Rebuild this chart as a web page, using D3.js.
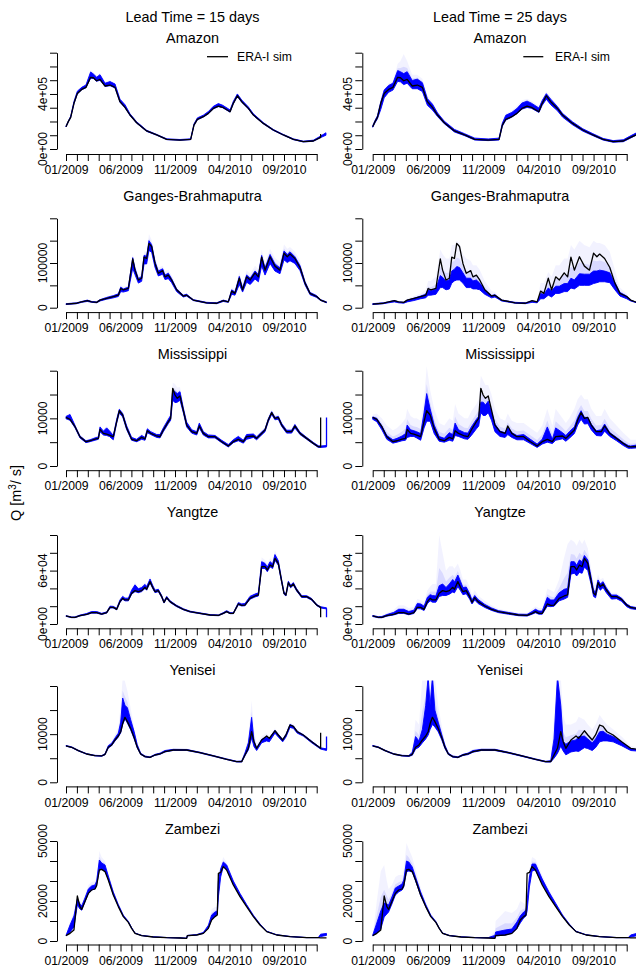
<!DOCTYPE html>
<html><head><meta charset="utf-8">
<script src="https://cdn.jsdelivr.net/npm/d3@7"></script>
<style>
body{margin:0;background:#fff}
svg{display:block}
text{font-family:"Liberation Sans",Arial,Helvetica,sans-serif;fill:#000}
</style>
</head><body>
<svg id="chart" width="636" height="970"></svg>
<script>
// ---------------- DATA ----------------
const leadTitles = ["Lead Time = 15 days", "Lead Time = 25 days"];
const riverNames = ["Amazon", "Ganges-Brahmaputra", "Mississippi", "Yangtze", "Yenisei", "Zambezi"];
const legendLabel = "ERA-I sim";
const yAxisTitle = "Q [m";
const xTickMonths = [0,1,2,3,4,5,6,7,8,9,10,11,12,13,14,15,16,17,18,19,20,21,22,23];
const xLabelMonths = [0,5,10,15,20];
const xLabels = ["01/2009","06/2009","11/2009","04/2010","09/2010"];

const amazonTicks = [0,100,200,300,400,500,600,700];
const amazonTickLabels = ["0e+00","","","","4e+05","","",""];
const gangesTicks = [0,50,100,150,200];
const gangesTickLabels = ["0","","100000","",""];
const mississippiTicks = [0,5,10,15,20];
const mississippiTickLabels = ["0","","10000","",""];
const yangtzeTicks = [0,20,40,60,80,100];
const yangtzeTickLabels = ["0e+00","","","6e+04","",""];
const yeniseiTicks = [0,5,10,15,20];
const yeniseiTickLabels = ["0","","10000","",""];
const zambeziTicks = [0,10,20,30,40,50];
const zambeziTickLabels = ["0","","20000","","","50000"];

// ---- Amazon (1000 m3/s), t = months since 01/2009
const amazonT = [0,0.21,0.43,0.73,1.04,1.44,1.83,2.26,2.51,2.81,3.12,3.58,4.04,4.5,4.95,5.41,5.87,6.48,7.4,8.32,9.24,10.46,11.44,11.74,12.05,12.6,13.06,13.52,13.98,14.37,15.05,15.35,15.72,16.12,16.73,17.19,18.1,19.02,19.94,20.86,21.77,22.69,23.36,23.85];
const amazonSim = [162,199,230,332,404,433,448,521,518,496,506,458,465,448,344,303,247,191,131,102,70,65,70,174,215,235,259,295,312,303,271,332,387,344,295,247,186,138,102,70,53,58,85,102];
const amazonLo15 = [160,196,228,328,400,430,445,515,512,492,500,455,460,444,340,300,244,188,128,100,68,63,68,170,212,232,256,292,308,300,268,328,382,340,292,244,183,135,100,68,51,56,83,100];
const amazonHi15 = [166,204,238,345,420,448,465,560,545,522,540,478,490,472,362,322,256,198,136,106,74,69,74,182,226,246,272,310,330,318,284,346,400,356,306,256,192,142,106,74,57,64,94,118];
const amazonExt15 = [168,206,240,350,428,455,472,575,560,535,555,490,500,480,368,328,260,200,138,108,76,71,76,185,230,250,278,316,336,324,290,352,408,362,310,260,195,145,108,76,59,66,96,120];
const amazonLo25 = [158,190,220,288,372,412,428,492,488,468,478,438,438,418,318,284,236,184,124,97,65,61,65,165,210,232,258,290,302,296,266,318,362,322,278,232,176,130,97,65,49,53,80,100];
const amazonHi25 = [168,208,242,342,428,462,478,570,562,548,562,498,508,482,366,326,262,202,142,111,79,73,79,188,245,266,294,334,348,333,298,352,402,362,308,258,197,147,111,77,61,67,96,116];
const amazonExt25 = [170,212,248,352,440,478,495,620,640,690,640,540,540,510,390,340,272,210,150,118,84,78,84,195,258,280,312,355,365,350,312,365,420,380,320,268,205,152,116,80,64,70,100,120];

// ---- Ganges-Brahmaputra
const gangesT = [0,0.98,1.44,1.96,2.35,2.81,3.12,3.73,4.34,4.8,5.02,5.26,5.72,6.12,6.33,6.64,6.94,7.16,7.4,7.61,7.86,8.17,8.47,8.87,9.08,9.39,9.69,10.15,10.76,11.07,11.68,12.9,13.82,14.43,14.89,15.2,15.5,15.9,16.2,16.57,16.9,17.34,17.65,17.95,18.26,18.72,19.17,19.63,20.0,20.3,20.55,21.0,21.47,21.93,22.39,23.0,23.36,23.9];
const gangesSim = [8,10,13,16,13,12,17,21,25,28,43,40,43,109,84,62,66,113,110,144,137,99,77,83,69,73,62,40,26,28,17,11,10,16,13,37,32,66,40,69,62,78,69,113,84,114,93,84,122,114,120,110,90,55,32,25,17,12];
const gangesLo15 = [7,9,12,14,12,11,15,19,22,25,36,35,38,88,74,55,59,98,98,128,124,90,71,75,63,65,56,36,24,26,16,10,9,14,12,30,28,52,35,57,52,64,58,94,73,99,82,76,107,101,105,99,83,51,29,23,16,11];
const gangesHi15 = [9,11,14,17,14,13,18,23,27,31,46,42,46,112,88,65,70,117,115,150,141,103,82,87,73,77,65,42,28,30,18,12,11,17,14,40,35,70,44,73,66,82,74,117,89,119,98,89,127,119,125,114,94,58,34,27,18,13];
const gangesExt15 = [9,11,14,17,15,14,19,24,29,33,52,47,50,120,96,72,78,126,126,165,152,112,90,94,82,85,73,47,31,32,19,12,11,17,15,45,42,80,52,84,76,94,86,130,102,132,112,102,142,132,136,126,106,64,37,29,19,13];
const gangesLo25 = [7,9,11,13,11,10,13,16,20,22,28,28,30,45,45,40,42,55,60,62,62,55,45,45,42,42,40,30,22,24,15,10,9,12,11,20,20,28,24,32,32,36,36,44,42,50,50,50,54,56,58,58,56,40,26,20,15,11];
const gangesHi25 = [9,11,13,16,13,12,17,21,26,30,40,38,42,72,68,60,62,82,86,92,90,78,66,66,60,62,55,40,27,29,17,12,11,15,13,32,30,44,38,48,48,54,54,66,62,76,75,75,82,82,84,82,78,56,34,26,17,12];
const gangesExt25 = [10,12,15,18,15,14,20,26,32,40,60,60,70,130,120,110,110,140,140,150,145,120,110,105,95,95,85,60,38,35,20,13,12,18,16,55,55,80,70,95,95,110,110,140,130,150,140,135,150,145,145,140,125,85,45,32,19,13];

// ---- Mississippi
const mississippiT = [0,0.37,0.83,1.28,1.83,2.2,2.66,2.97,3.12,3.43,3.73,3.98,4.34,4.65,4.89,5.2,5.57,6.02,6.48,6.94,7.25,7.46,7.77,8.32,8.62,8.93,9.39,9.6,9.79,10.0,10.21,10.46,10.76,11.07,11.53,11.99,12.23,12.6,13.06,13.67,14.28,14.89,15.35,15.81,16.27,16.57,17.19,17.49,17.8,18.26,18.56,18.87,19.17,19.48,19.79,20.24,20.7,21.0,21.47,22.08,22.69,23.15,23.36,23.9];
const mississippiSim = [10.2,9.8,8.25,6.15,5.1,5.3,5.66,5.8,7.7,6.85,6.7,6.5,6.15,9.3,11.6,10.7,7.9,5.6,5.3,6.0,5.7,7.4,6.85,6.3,6.15,7.55,9.3,10.0,16.3,14.9,14.2,14.7,11.7,8.6,7.2,6.85,8.4,6.85,6.15,6.15,5.1,4.2,5.1,5.6,5.1,6.15,6.3,5.8,6.5,7.55,9.65,11.2,10.0,10.2,8.6,7.2,7.2,8.4,6.85,5.8,4.75,4.05,4.0,4.1];
const mississippiLo15 = [9.9,9.6,8.0,5.9,4.9,5.1,5.4,5.6,7.2,6.5,6.4,6.2,5.5,9.0,11.1,10.3,7.6,5.4,5.1,5.6,5.4,7.0,6.6,6.0,5.9,7.2,8.9,9.6,13.8,13.3,13.4,13.8,11.2,8.2,6.9,6.5,8.0,6.5,5.9,5.9,4.9,4.0,4.9,5.3,4.8,5.6,6.0,5.5,6.2,7.2,9.3,10.8,9.7,9.8,8.3,6.9,6.9,8.0,6.6,5.6,4.6,3.9,3.9,4.0];
const mississippiHi15 = [10.4,10.8,8.5,6.3,5.3,5.5,5.9,6.1,8.2,7.3,8.0,7.4,6.4,9.8,11.9,11.0,8.4,6.0,5.6,6.4,6.0,7.8,7.2,6.6,6.6,8.0,9.8,10.6,16.0,15.6,15.2,15.6,12.2,9.2,7.6,7.2,9.0,7.2,6.5,6.4,5.4,4.5,5.5,6.2,5.4,6.6,6.7,6.1,6.8,7.8,9.9,11.4,10.2,10.4,8.9,7.5,7.5,8.7,7.1,6.0,4.95,4.25,4.2,4.3];
const mississippiExt15 = [10.6,11.2,8.8,6.5,5.5,5.7,6.2,6.4,8.6,7.7,8.4,7.8,6.8,10.2,12.4,11.5,8.8,6.2,5.8,6.8,6.3,8.2,7.6,7.0,7.0,8.4,10.4,11.4,17.5,17.2,16.5,16.6,12.8,9.6,7.9,7.5,9.4,7.5,6.8,6.7,5.6,4.7,5.8,6.5,5.6,6.9,7.0,6.4,7.1,8.2,10.4,11.9,10.7,10.9,9.3,7.8,7.8,9.0,7.4,6.2,5.1,4.4,4.3,4.4];
const mississippiLo25 = [9.8,9.3,7.6,5.6,4.8,5.0,5.3,5.4,6.0,6.2,6.2,5.9,5.4,8.0,9.4,9.4,6.8,5.2,5.0,5.4,5.2,6.4,6.2,5.7,5.6,6.4,7.8,8.4,11.2,10.6,10.6,11.2,9.6,7.2,6.2,6.0,6.6,6.0,5.5,5.5,4.7,3.9,4.6,5.0,4.7,5.4,5.7,5.2,5.8,6.8,8.6,9.8,8.8,8.9,7.6,6.4,6.3,7.3,6.2,5.3,4.3,3.7,3.7,3.8];
const mississippiHi25 = [10.3,10.0,8.4,6.4,5.5,5.8,6.3,6.8,8.6,7.6,7.4,7.2,6.8,11.2,15.2,12.0,8.6,6.2,5.8,7.0,6.6,9.0,7.6,7.0,6.9,8.2,9.8,10.4,13.4,13.4,12.8,13.6,11.4,8.8,7.3,7.0,8.2,7.0,6.4,6.6,5.6,4.6,5.6,8.2,5.6,8.0,7.0,6.4,7.2,8.2,10.2,11.6,10.2,10.2,8.8,7.4,7.6,8.8,7.0,6.0,4.9,4.3,4.2,4.4];
const mississippiExt25 = [10.8,11.0,10.0,8.5,7.5,8.0,9.0,10.0,12.0,10.5,10.0,10.0,9.5,14.0,21.0,16.0,12.0,9.0,8.5,10.0,9.5,13.0,11.0,10.0,10.0,11.5,13.0,14.0,19.0,18.0,17.0,17.0,15.0,12.0,10.0,9.5,11.0,9.5,9.0,9.0,8.0,7.0,8.5,12.0,8.5,12.0,10.0,9.0,10.0,12.0,14.0,15.0,14.0,14.0,12.0,10.5,10.5,12.0,10.0,8.5,7.0,6.0,5.5,5.5];

// ---- Yangtze
const yangtzeT = [0,0.52,0.83,1.28,1.9,2.35,2.81,3.27,3.73,4.04,4.34,4.65,4.95,5.2,5.41,5.72,6.02,6.33,6.64,6.94,7.25,7.4,7.71,7.95,8.17,8.47,8.78,8.99,9.24,9.54,10.15,10.76,11.38,12.29,13.21,13.98,14.43,14.74,15.05,15.35,15.81,16.12,16.42,16.88,17.34,17.65,17.95,18.26,18.47,18.72,18.96,19.17,19.48,19.79,20.0,20.18,20.4,20.61,20.86,21.16,21.62,22.08,22.54,23.0,23.36,23.9];
const yangtzeSim = [9.0,7.5,7.5,9.4,10.9,12.7,12.7,11.2,12.7,18.7,18.7,16.5,25.1,28.8,27.0,27.0,34.5,37.5,36.3,37.5,41.2,39.0,47.6,41.2,36.3,37.5,30.7,24.3,29.6,25.1,20.2,16.5,13.9,12.0,10.1,9.7,12.0,13.9,12.0,12.0,22.5,21.0,21.3,28.8,31.5,32.6,64.4,64.4,60.7,66.3,64.4,73.8,68.2,47.6,34.5,32.6,46.4,42.0,45.0,38.2,30.7,30.7,27.7,21.3,18.7,17.5];
const yangtzeLo15 = [8.6,7.1,7.1,9.0,10.5,12.2,12.2,10.8,12.2,18.0,18.0,15.9,24.2,27.8,26.0,26.0,33.4,36.4,35.2,36.4,40.0,38.0,46.2,40.0,35.2,36.4,29.8,23.5,28.7,24.3,19.5,15.9,13.4,11.6,9.7,9.3,11.6,13.4,11.6,11.6,21.6,20.2,20.5,27.8,30.4,31.5,62.4,62.4,58.8,64.2,62.4,71.5,66.0,46.2,33.4,31.5,45.0,40.7,43.6,37.0,29.8,29.8,26.8,20.6,18.1,16.9];
const yangtzeHi15 = [9.4,7.9,8.0,10.0,11.8,14.0,14.0,12.0,13.6,20.0,19.8,17.6,27.0,31.0,29.0,29.0,38.0,44.0,39.5,41.0,44.5,42.0,50.5,43.5,38.0,39.0,32.0,25.5,31.0,26.2,21.0,17.2,14.4,12.5,10.6,10.2,12.8,15.0,12.8,12.6,24.0,22.6,23.0,31.0,33.6,35.0,70.0,68.0,64.0,70.0,67.5,78.0,71.0,49.5,36.0,34.0,48.0,43.6,46.5,39.5,31.8,31.8,28.6,22.0,19.4,18.2];
const yangtzeExt15 = [9.6,8.1,8.2,10.3,12.2,14.6,14.6,12.4,14.0,21.0,20.8,18.4,28.4,32.6,30.4,30.4,40.0,47.0,41.5,43.5,47.0,44.5,54.0,45.5,39.5,40.5,33.0,26.3,32.0,27.0,21.6,17.6,14.7,12.8,10.9,10.5,13.3,15.6,13.3,13.1,25.4,23.8,24.2,33.0,35.5,37.0,75.0,72.0,68.0,74.0,71.0,83.0,74.0,51.5,37.5,35.5,50.0,45.0,48.0,41.0,32.7,32.7,29.4,22.6,19.9,18.6];
const yangtzeLo25 = [8.4,7.0,7.0,8.8,10.2,11.9,11.9,10.4,11.8,17.3,17.0,15.2,22.8,26.0,24.5,24.5,31.0,32.0,32.0,33.5,36.0,35.0,42.0,37.5,33.0,34.0,28.0,22.5,27.0,23.0,18.6,15.3,12.8,11.0,9.3,8.9,11.0,12.6,11.0,11.0,20.0,19.5,20.0,26.0,28.0,30.0,56.0,57.0,54.0,58.0,57.0,64.0,60.0,44.0,31.0,29.5,42.0,38.0,41.0,35.0,28.0,28.5,25.5,19.5,17.2,16.2];
const yangtzeHi25 = [9.5,8.2,8.4,10.6,13.0,16.5,16.5,14.0,15.5,23.0,22.5,20.0,30.0,33.0,32.0,31.5,43.0,45.0,41.0,45.0,50.0,47.0,55.0,48.0,41.0,41.5,34.0,27.0,32.0,27.5,22.0,18.0,15.0,13.0,11.0,10.8,14.0,16.5,14.5,14.5,30.0,27.0,27.0,35.0,39.0,40.0,70.0,70.0,66.0,72.0,70.0,77.0,72.0,52.0,38.0,36.0,49.5,45.0,47.5,40.5,32.5,32.5,29.0,22.5,19.6,18.4];
const yangtzeExt25 = [10.0,9.0,9.5,12.5,16.0,21.0,21.0,18.0,19.5,28.0,27.0,25.0,38.0,42.0,45.0,45.0,100.0,80.0,60.0,65.0,65.0,62.0,68.0,60.0,50.0,50.0,42.0,33.0,38.0,32.0,26.0,21.0,17.0,14.5,12.5,12.5,17.0,20.0,18.0,18.0,40.0,38.0,36.0,50.0,75.0,90.0,95.0,92.0,88.0,95.0,90.0,95.0,85.0,62.0,46.0,44.0,56.0,50.0,52.0,44.0,35.0,35.0,31.0,24.0,21.0,19.5];

// ---- Yenisei
const yeniseiT = [0,0.52,1.13,1.9,2.66,3.27,3.58,3.88,4.19,4.5,4.8,5.02,5.2,5.41,5.63,5.93,6.24,6.54,6.85,7.25,7.71,8.17,8.62,9.08,9.85,11.07,12.29,13.52,14.74,15.66,16.12,16.42,16.73,17.03,17.25,17.49,17.95,18.41,18.65,19.17,19.48,19.88,20.18,20.55,20.86,21.22,21.77,22.54,23.36,23.9];
const yeniseiSim = [7.55,7.27,6.57,5.88,5.54,5.47,5.81,7.27,7.75,8.79,9.62,10.5,12.2,13.5,12.6,11.2,9.34,7.27,5.88,5.33,5.19,5.67,5.88,6.37,6.71,6.71,6.16,5.47,4.78,4.29,4.29,5.67,7.06,10.5,8.44,7.06,8.79,9.62,9.13,10.7,9.83,8.79,9.83,11.9,11.6,10.5,9.83,8.44,7.06,6.85];
const yeniseiLo15 = [7.5,7.2,6.5,5.82,5.48,5.4,5.7,7.1,7.6,8.6,9.4,10.3,12.0,13.2,12.3,10.9,9.1,7.1,5.78,5.25,5.12,5.6,5.8,6.3,6.62,6.62,6.08,5.4,4.72,4.22,4.2,5.5,6.7,9.2,7.4,6.6,8.2,8.6,8.4,10.2,9.4,8.4,9.4,11.4,11.2,10.2,9.6,8.2,6.9,6.6];
const yeniseiHi15 = [7.65,7.36,6.65,5.95,5.6,5.55,5.95,7.6,8.1,9.2,10.2,12.5,17.5,16.0,15.5,13.0,10.6,7.8,6.05,5.45,5.28,5.8,6.05,6.6,6.85,6.82,6.25,5.55,4.86,4.36,4.42,6.1,8.2,13.5,8.6,7.1,8.9,9.4,9.1,10.8,9.95,8.9,9.95,12.0,11.7,10.6,9.9,8.55,7.15,6.95];
const yeniseiExt15 = [7.7,7.4,6.7,6.0,5.65,5.6,6.1,8.0,8.6,10.0,11.5,16.0,22.0,21.0,19.0,15.5,11.5,8.2,6.1,5.5,5.35,5.9,6.1,6.7,6.9,6.9,6.3,5.6,4.9,4.4,4.5,6.6,9.5,17.0,11.0,8.0,9.6,10.2,9.6,11.2,10.2,9.2,10.2,12.4,12.0,10.9,10.1,8.7,7.25,7.05];
const yeniseiLo25 = [7.5,7.2,6.5,5.8,5.45,5.38,5.6,6.9,7.3,8.2,9.0,9.8,11.0,12.0,11.5,10.5,8.9,7.0,5.75,5.22,5.1,5.55,5.75,6.25,6.6,6.6,6.05,5.38,4.7,4.2,4.2,5.0,6.0,7.5,6.5,5.7,6.3,6.5,6.4,7.2,7.0,6.6,7.2,8.4,8.6,8.6,8.4,7.6,6.6,6.5];
const yeniseiHi25 = [7.65,7.36,6.65,5.95,5.6,5.55,6.2,9.5,8.6,11.0,16.0,22.0,16.0,22.0,15.0,12.5,10.0,7.7,6.05,5.45,5.3,5.8,6.05,6.6,6.85,6.85,6.25,5.55,4.86,4.36,4.5,9.0,22.0,16.0,8.5,7.9,8.6,8.8,9.5,9.6,9.0,8.2,9.0,10.5,10.6,10.0,9.5,8.3,7.0,6.8];
const yeniseiExt25 = [7.7,7.4,6.7,6.0,5.7,5.7,6.8,13.0,12.0,22.0,22.0,22.0,22.0,22.0,22.0,16.0,12.0,8.2,6.2,5.6,5.4,5.9,6.2,6.9,7.1,7.0,6.3,5.6,4.9,4.4,4.8,14.0,22.0,22.0,14.0,12.0,12.0,12.5,13.6,13.0,12.0,11.0,12.0,14.0,13.0,12.0,11.0,9.5,7.6,7.2];

// ---- Zambezi
const zambeziT = [0,0.37,0.73,1.04,1.28,1.44,1.74,2.05,2.35,2.66,2.81,3.06,3.27,3.58,3.88,4.34,4.8,5.26,5.72,6.02,6.33,6.94,8.01,9.24,10.46,11.07,11.13,11.99,12.6,13.06,13.36,13.67,13.88,13.98,14.19,14.43,14.74,15.35,15.96,16.57,17.19,17.8,18.41,19.33,20.55,22.08,23.15,23.36,23.9];
const zambeziSim = [2.67,3.83,5.5,22.5,17.2,15.8,19.7,23.8,25.5,26.0,27.7,35.5,35.8,34.7,30.5,23.0,17.2,12.2,9.33,6.33,3.83,2.67,2.0,1.67,1.5,1.33,2.67,3.0,3.83,6.33,10.5,12.2,13.0,33.8,34.3,37.2,35.5,28.0,22.2,17.2,12.2,8.0,4.67,3.0,2.17,1.67,1.67,1.6,1.6];
const zambeziLo15 = [2.6,4.5,7.0,18.0,16.0,15.4,19.5,23.8,25.5,26.0,27.8,36.0,36.0,35.0,30.8,23.2,17.4,12.3,9.4,6.4,3.85,2.68,2.0,1.67,1.5,1.33,2.6,2.95,3.8,6.4,10.8,12.5,13.5,22.0,32.0,37.2,35.7,28.3,22.5,17.4,12.3,8.05,4.7,3.0,2.17,1.67,1.67,2.2,2.8];
const zambeziHi15 = [2.8,8.0,12.5,21.0,18.5,17.5,21.5,26.0,27.5,28.0,30.0,40.5,39.0,38.0,32.5,24.5,18.2,12.9,9.8,6.7,4.0,2.8,2.1,1.75,1.58,1.4,2.8,3.2,4.3,7.8,13.0,14.5,15.0,30.0,36.0,39.5,38.0,30.0,23.8,18.2,12.9,8.5,4.9,3.15,2.27,1.75,1.75,3.4,3.8];
const zambeziExt15 = [2.9,10.0,14.5,23.0,20.0,19.0,23.0,28.0,29.5,30.0,32.0,45.0,42.0,40.0,34.0,25.5,18.8,13.3,10.0,6.9,4.1,2.9,2.15,1.8,1.6,1.42,2.9,3.3,4.6,9.0,16.0,17.0,17.0,33.0,38.0,42.0,39.5,31.0,24.5,18.6,13.2,8.7,5.0,3.2,2.3,1.8,1.8,3.6,4.0];
const zambeziLo25 = [2.6,4.0,6.0,12.0,13.5,14.5,18.5,23.0,24.5,25.5,27.0,34.5,35.0,34.5,30.0,22.8,17.2,12.2,9.3,6.3,3.8,2.65,2.0,1.65,1.5,1.33,2.5,3.0,3.8,6.2,9.0,11.5,12.5,15.0,27.0,35.0,35.5,28.5,22.5,17.4,12.3,8.0,4.65,3.0,2.15,1.65,1.65,2.0,2.6];
const zambeziHi25 = [2.9,9.0,15.0,19.0,18.5,18.0,22.0,26.5,27.5,28.5,30.5,40.0,39.5,37.0,32.0,24.5,18.2,12.9,9.7,6.6,4.0,2.8,2.1,1.75,1.7,2.8,4.5,5.5,6.0,9.5,12.5,14.5,15.5,20.0,32.0,38.5,38.5,31.0,24.5,18.8,13.0,8.5,4.9,3.15,2.25,1.75,1.75,3.0,3.8];
const zambeziExt25 = [3.2,20.0,35.0,38.0,30.0,26.0,28.0,32.0,33.0,33.0,36.0,49.0,46.0,42.0,36.0,27.0,20.0,14.0,10.5,7.0,4.2,3.0,2.3,1.9,1.9,5.0,10.0,15.0,14.0,16.0,20.0,19.0,18.0,24.0,36.0,42.0,41.0,33.0,26.0,19.8,13.6,8.9,5.1,3.3,2.35,1.85,1.85,3.3,4.2];

// end-of-record jump seen in the 15-day panels (value the trace jumps to; null = none)
const wrapSim15 = [109, null, 10.2, 7.5, 10.3, null];
const wrapEns15 = [null, null, 10.2, 7.5, 9.5, null];

// ---------------- assemble ----------------
const rivers = [
  {t:amazonT, sim:amazonSim, ticks:amazonTicks, labels:amazonTickLabels, ens:[[amazonLo15,amazonHi15,amazonExt15],[amazonLo25,amazonHi25,amazonExt25]]},
  {t:gangesT, sim:gangesSim, ticks:gangesTicks, labels:gangesTickLabels, ens:[[gangesLo15,gangesHi15,gangesExt15],[gangesLo25,gangesHi25,gangesExt25]]},
  {t:mississippiT, sim:mississippiSim, ticks:mississippiTicks, labels:mississippiTickLabels, ens:[[mississippiLo15,mississippiHi15,mississippiExt15],[mississippiLo25,mississippiHi25,mississippiExt25]]},
  {t:yangtzeT, sim:yangtzeSim, ticks:yangtzeTicks, labels:yangtzeTickLabels, ens:[[yangtzeLo15,yangtzeHi15,yangtzeExt15],[yangtzeLo25,yangtzeHi25,yangtzeExt25]]},
  {t:yeniseiT, sim:yeniseiSim, ticks:yeniseiTicks, labels:yeniseiTickLabels, ens:[[yeniseiLo15,yeniseiHi15,yeniseiExt15],[yeniseiLo25,yeniseiHi25,yeniseiExt25]]},
  {t:zambeziT, sim:zambeziSim, ticks:zambeziTicks, labels:zambeziTickLabels, ens:[[zambeziLo15,zambeziHi15,zambeziExt15],[zambeziLo25,zambeziHi25,zambeziExt25]]}
];

// ---------------- layout ----------------
const svg = d3.select("#chart");
const defs = svg.append("defs");
const blur = defs.append("filter").attr("id","soft").attr("x","-5%").attr("y","-20%").attr("width","110%").attr("height","140%");
blur.append("feGaussianBlur").attr("stdDeviation",0.35);
const rowH = 158.1;
const cols = [
  {axisX:57, x0:66, x23:316.7, right:330, cx:192.5, legLine:[207,228], legText:237},
  {axisX:362.3, x0:372.7, x23:626.7, right:636, cx:500, legLine:[523.3,543.3], legText:555}
];
const yPix = [[149,52.7],[149.6,60.2],[149.8,54.5],[149.7,60.7],[149.9,53.6],[150.5,50.5]];
const plotTop = 48, plotBottom = 154;
const cutT = 23.36;
const BLUE = "#0000ff";

cols.forEach((cfg, c) => {
  svg.append("text").attr("x", cfg.cx).attr("y", 22).attr("text-anchor","middle")
    .attr("font-size", 14.4).text(leadTitles[c]);
});

rivers.forEach((rd, r) => {
  cols.forEach((cfg, c) => {
    const g = svg.append("g").attr("transform", `translate(0,${r*rowH})`);
    const x = d3.scaleLinear().domain([0,23]).range([cfg.x0, cfg.x23]);
    const tk = rd.ticks;
    const y = d3.scaleLinear().domain([tk[0], tk[tk.length-1]]).range(yPix[r]);
    const id = `clip-${r}-${c}`;
    defs.append("clipPath").attr("id", id).append("rect")
      .attr("x", cfg.axisX).attr("y", plotTop).attr("width", cfg.right - cfg.axisX).attr("height", plotBottom - plotTop);
    const pg = g.append("g").attr("clip-path", `url(#${id})`);
    const [lo, hi, ext] = rd.ens[c];
    const pts = rd.t.map((t,i) => ({t, s:rd.sim[i], lo:lo[i], hi:hi[i], ext:ext[i]}));

    // faint ensemble spread (outer members)
    pg.append("path").datum(pts)
      .attr("d", d3.area().x(d=>x(d.t)).y0(d=>y(d.lo)).y1(d=>y(d.ext)))
      .attr("fill", BLUE).attr("fill-opacity", 0.05);
    pg.append("path").datum(pts)
      .attr("d", d3.area().x(d=>x(d.t)).y0(d=>y(d.lo)).y1(d=>y(d.hi + (d.ext - d.hi)*0.35)))
      .attr("fill", BLUE).attr("fill-opacity", 0.1);
    // dense core
    pg.append("path").datum(pts)
      .attr("d", d3.area().x(d=>x(d.t)).y0(d=>y(d.lo)).y1(d=>y(d.hi)))
      .attr("fill", BLUE).attr("stroke", BLUE).attr("stroke-width", 0.9)
      .attr("stroke-linejoin","round").attr("filter","url(#soft)");

    // ensemble end jump (15-day panels)
    if (c === 0 && wrapEns15[r] != null) {
      const last = pts[pts.length-1];
      pg.append("path")
        .attr("d", d3.line()([[x(last.t), y((last.lo+last.hi)/2)], [x(last.t), y(wrapEns15[r])]]))
        .attr("stroke", BLUE).attr("stroke-width", 1.3).attr("fill","none");
    }

    // ERA-I sim line
    let simPts;
    if (c === 0 && wrapSim15[r] != null) {
      const kept = pts.filter(d => d.t <= cutT + 1e-9);
      simPts = kept.map(d => [x(d.t), y(d.s)]);
      simPts.push([x(kept[kept.length-1].t), y(wrapSim15[r])]);
    } else {
      simPts = pts.map(d => [x(d.t), y(d.s)]);
    }
    pg.append("path").attr("d", d3.line()(simPts))
      .attr("fill","none").attr("stroke","#000").attr("stroke-width",1.3).attr("stroke-linejoin","round");

    // x axis
    const xa = g.append("g").attr("transform", `translate(0,${plotBottom})`)
      .call(d3.axisBottom(x).tickValues(xTickMonths).tickSize(7).tickSizeOuter(0)
        .tickPadding(4.5)
        .tickFormat(m => { const k = xLabelMonths.indexOf(m); return k >= 0 ? xLabels[k] : ""; }));
    xa.attr("font-size", 12.2).attr("font-family", null);
    xa.selectAll("path,line").attr("stroke","#000").attr("stroke-width",1);

    // y axis
    const ya = g.append("g").attr("transform", `translate(${cfg.axisX},0)`)
      .call(d3.axisLeft(y).tickValues(tk).tickSize(7).tickSizeOuter(0).tickFormat(""));
    ya.selectAll("path,line").attr("stroke","#000").attr("stroke-width",1);
    tk.forEach((v,i) => {
      if (!rd.labels[i]) return;
      g.append("text")
        .attr("transform", `translate(${cfg.axisX - 10},${y(v)}) rotate(-90)`)
        .attr("text-anchor","middle").attr("font-size", 12.2).text(rd.labels[i]);
    });

    // panel title
    g.append("text").attr("x", cfg.cx).attr("y", 43).attr("text-anchor","middle")
      .attr("font-size", 14.4).text(riverNames[r]);

    // legend in first row
    if (r === 0) {
      g.append("line").attr("x1", cfg.legLine[0]).attr("x2", cfg.legLine[1])
        .attr("y1", 56.7).attr("y2", 56.7).attr("stroke","#000").attr("stroke-width",1.3);
      g.append("text").attr("x", cfg.legText).attr("y", 61).attr("font-size", 12.2).text(legendLabel);
    }
  });
});

// common y-axis title
const yt = svg.append("text").attr("transform","translate(21,493) rotate(-90)")
  .attr("text-anchor","middle").attr("font-size",14.4);
yt.append("tspan").text(yAxisTitle);
yt.append("tspan").attr("font-size",10).attr("dy",-5.5).text("3");
yt.append("tspan").attr("dy",5.5).text("/ s]");
</script>
</body></html>
